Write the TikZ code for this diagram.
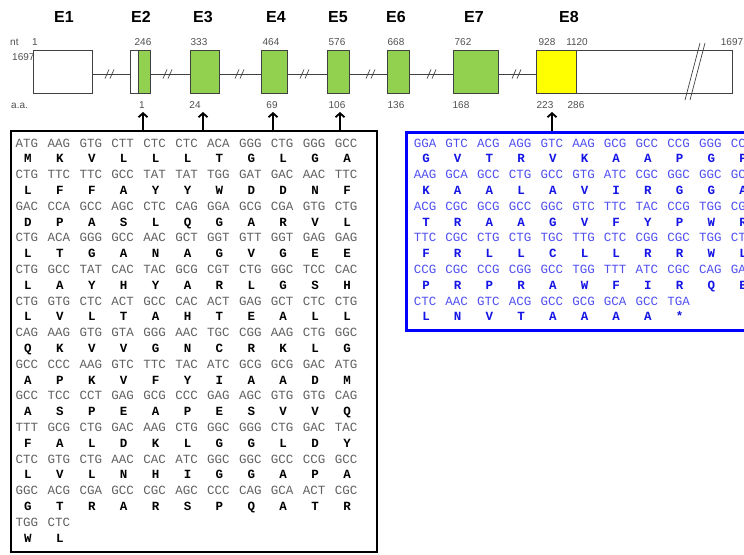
\documentclass[tikz,border=0pt]{standalone}
\usepackage{fontspec}
\setmainfont{Liberation Sans}
\newfontfamily\seqfont{Liberation Mono}
\usetikzlibrary{arrows.meta}
\definecolor{exgreen}{HTML}{92D050}
\definecolor{exyellow}{HTML}{FFFF00}
\definecolor{lineg}{HTML}{404040}
\definecolor{numg}{HTML}{505050}
\definecolor{aablue}{HTML}{1414E6}
\definecolor{codblue}{HTML}{5050F0}
\definecolor{boxblue}{HTML}{0000FF}
\begin{document}
\begin{tikzpicture}[x=1pt,y=-1pt,
  exon/.style={draw=lineg, line width=0.8pt, minimum height=43pt, inner sep=0pt, anchor=north west},
  num/.style={font=\fontsize{10}{10}\selectfont, text=numg, inner sep=0pt},
  elab/.style={font=\fontsize{16}{16}\selectfont\bfseries, inner sep=0pt},
  gapm/.style={draw=lineg, line width=0.7pt},
  arr/.style={line width=1.8pt, -{Straight Barb[length=4pt,width=9pt]}},
  cod/.style={font=\seqfont\fontsize{12.5}{12.5}\selectfont, text=black!62, inner sep=0pt, anchor=base},
  aa/.style={font=\seqfont\bfseries\fontsize{12.5}{12.5}\selectfont, text=black, inner sep=0pt, anchor=base},
  bcod/.style={cod, text=codblue},
  baa/.style={aa, text=aablue},
  seqbox/.style={anchor=north west, inner sep=0pt, draw, fill=none},
]
\path[use as bounding box, clip] (0,0) rectangle (744,554);
\fill[white] (0,0) rectangle (744,554);

% exon labels
\node[elab] (E1) at (64,17) {E1};
\node[elab] (E2) at (141,17) {E2};
\node[elab] (E3) at (203,17) {E3};
\node[elab] (E4) at (276,17) {E4};
\node[elab] (E5) at (338,17) {E5};
\node[elab] (E6) at (396,17) {E6};
\node[elab] (E7) at (474,17) {E7};
\node[elab] (E8) at (569,17) {E8};

% left labels
\node[num, anchor=west] (ntl) at (10,42) {nt};
\node[num] (n1) at (35,42) {1};
\node[num, anchor=west] (n1697a) at (12,57) {1697};
\node[num, anchor=west] (aal) at (11,106) {a.a.};

% intron line
\coordinate (ly) at (0,74);
\draw[lineg, line width=0.8pt] (92,74) -- (536,74);

% exon boxes
\node[exon, fill=white, minimum width=59pt] (e1) at (33,50) {};
\node[exon, fill=white, minimum width=8pt] (e2w) at (130,50) {};
\node[exon, fill=exgreen, minimum width=12pt] (e2) at (138,50) {};
\node[exon, fill=exgreen, minimum width=29pt] (e3) at (190,50) {};
\node[exon, fill=exgreen, minimum width=26pt] (e4) at (261,50) {};
\node[exon, fill=exgreen, minimum width=22pt] (e5) at (327,50) {};
\node[exon, fill=exgreen, minimum width=22pt] (e6) at (387,50) {};
\node[exon, fill=exgreen, minimum width=45pt] (e7) at (453,50) {};
\node[exon, fill=exyellow, minimum width=40pt] (e8) at (536,50) {};
\node[exon, fill=white, minimum width=156pt] (e8u) at (576,50) {};

% gap marks
\foreach \gx in {110,168,240,305,371,432,517}{
  \draw[gapm] (\gx-5,78.5) -- (\gx-1,69.5);
  \draw[gapm] (\gx,78.5) -- (\gx+4,69.5);
}
\draw[gapm] (685,100) -- (700,43);
\draw[gapm] (690,100) -- (705,43);

% nt numbers
\node[num] (n246) at (143,42) {246};
\node[num] (n333) at (199,42) {333};
\node[num] (n464) at (271,42) {464};
\node[num] (n576) at (337,42) {576};
\node[num] (n668) at (396,42) {668};
\node[num] (n762) at (463,42) {762};
\node[num] (n928) at (547,42) {928};
\node[num] (n1120) at (577,42) {1120};
\node[num] (n1697) at (732,42) {1697};

% aa numbers
\node[num] (a1) at (142,105) {1};
\node[num] (a24) at (195,105) {24};
\node[num] (a69) at (272,105) {69};
\node[num] (a106) at (337,105) {106};
\node[num] (a136) at (396,105) {136};
\node[num] (a168) at (461,105) {168};
\node[num] (a223) at (545,105) {223};
\node[num] (a286) at (576,105) {286};

% sequence boxes
\node[seqbox, line width=2pt, draw=black, minimum width=366pt, minimum height=421pt] (lbox) at (10,130) {};
\node[seqbox, line width=2.5pt, draw=boxblue, minimum width=360pt, minimum height=198pt] (rbox) at (405,131) {};

% arrows
\coordinate (t1) at (143,112);
\coordinate (t24) at (203,112);
\coordinate (t69) at (273,112);
\coordinate (t106) at (340,112);
\coordinate (t223) at (552,112);
\foreach \t in {t1,t24,t69,t106}{ \draw[arr] (\t |- lbox.north) -- (\t); }
\draw[arr] (t223 |- rbox.north) -- (t223);

% left sequence
\foreach \row [count=\r] in {
 {ATG,AAG,GTG,CTT,CTC,CTC,ACA,GGG,CTG,GGG,GCC},
 {CTG,TTC,TTC,GCC,TAT,TAT,TGG,GAT,GAC,AAC,TTC},
 {GAC,CCA,GCC,AGC,CTC,CAG,GGA,GCG,CGA,GTG,CTG},
 {CTG,ACA,GGG,GCC,AAC,GCT,GGT,GTT,GGT,GAG,GAG},
 {CTG,GCC,TAT,CAC,TAC,GCG,CGT,CTG,GGC,TCC,CAC},
 {CTG,GTG,CTC,ACT,GCC,CAC,ACT,GAG,GCT,CTC,CTG},
 {CAG,AAG,GTG,GTA,GGG,AAC,TGC,CGG,AAG,CTG,GGC},
 {GCC,CCC,AAG,GTC,TTC,TAC,ATC,GCG,GCG,GAC,ATG},
 {GCC,TCC,CCT,GAG,GCG,CCC,GAG,AGC,GTG,GTG,CAG},
 {TTT,GCG,CTG,GAC,AAG,CTG,GGC,GGG,CTG,GAC,TAC},
 {CTC,GTG,CTG,AAC,CAC,ATC,GGC,GGC,GCC,CCG,GCC},
 {GGC,ACG,CGA,GCC,CGC,AGC,CCC,CAG,GCA,ACT,CGC},
 {TGG,CTC}}{
  \foreach \c [count=\k] in \row {
    \node[cod] (lc-\r-\k) at ({27+(\k-1)*31.9},{147+(\r-1)*31.6}) {\c};
  }
}
\foreach \row [count=\r] in {
 {M,K,V,L,L,L,T,G,L,G,A},
 {L,F,F,A,Y,Y,W,D,D,N,F},
 {D,P,A,S,L,Q,G,A,R,V,L},
 {L,T,G,A,N,A,G,V,G,E,E},
 {L,A,Y,H,Y,A,R,L,G,S,H},
 {L,V,L,T,A,H,T,E,A,L,L},
 {Q,K,V,V,G,N,C,R,K,L,G},
 {A,P,K,V,F,Y,I,A,A,D,M},
 {A,S,P,E,A,P,E,S,V,V,Q},
 {F,A,L,D,K,L,G,G,L,D,Y},
 {L,V,L,N,H,I,G,G,A,P,A},
 {G,T,R,A,R,S,P,Q,A,T,R},
 {W,L}}{
  \foreach \c [count=\k] in \row {
    \node[aa] (la-\r-\k) at ({28+(\k-1)*31.9},{162.8+(\r-1)*31.6}) {\c};
  }
}

% right sequence
\foreach \row [count=\r] in {
 {GGA,GTC,ACG,AGG,GTC,AAG,GCG,GCC,CCG,GGG,CCG},
 {AAG,GCA,GCC,CTG,GCC,GTG,ATC,CGC,GGC,GGC,GCC},
 {ACG,CGC,GCG,GCC,GGC,GTC,TTC,TAC,CCG,TGG,CGC},
 {TTC,CGC,CTG,CTG,TGC,TTG,CTC,CGG,CGC,TGG,CTG},
 {CCG,CGC,CCG,CGG,GCC,TGG,TTT,ATC,CGC,CAG,GAG},
 {CTC,AAC,GTC,ACG,GCC,GCG,GCA,GCC,TGA}}{
  \foreach \c [count=\k] in \row {
    \node[bcod] (rc-\r-\k) at ({425+(\k-1)*31.7},{147+(\r-1)*31.6}) {\c};
  }
}
\foreach \row [count=\r] in {
 {G,V,T,R,V,K,A,A,P,G,P},
 {K,A,A,L,A,V,I,R,G,G,A},
 {T,R,A,A,G,V,F,Y,P,W,R},
 {F,R,L,L,C,L,L,R,R,W,L},
 {P,R,P,R,A,W,F,I,R,Q,E},
 {L,N,V,T,A,A,A,A,*}}{
  \foreach \c [count=\k] in \row {
    \node[baa] (ra-\r-\k) at ({426+(\k-1)*31.7},{162.8+(\r-1)*31.6}) {\c};
  }
}
\end{tikzpicture}
\end{document}
